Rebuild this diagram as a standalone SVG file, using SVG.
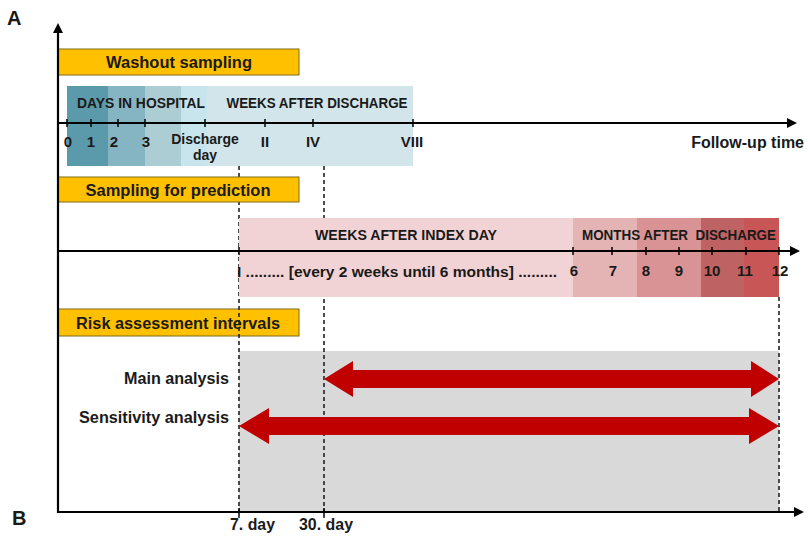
<svg xmlns="http://www.w3.org/2000/svg" width="807" height="536" viewBox="0 0 807 536">
<style>
  text { font-family: "Liberation Sans", Arial, sans-serif; font-weight: bold; fill: #1a1a1a; }
  .lbl { font-size: 16px; }
  .sm { font-size: 14px; }
  .tk { font-size: 15px; }
  .mid { text-anchor: middle; }
  .end { text-anchor: end; }
  .gold { fill: #FFC000; stroke: #7f6a1a; stroke-width: 1; }
  .axis { stroke: #000; stroke-width: 2.2; fill: none; }
  .tick { stroke: #000; stroke-width: 1.5; }
  .dash { stroke: #222; stroke-width: 1.6; stroke-dasharray: 4 3; fill: none; }
  .red { fill: #C00000; }
</style>
<defs>
  <marker id="ah" markerUnits="userSpaceOnUse" markerWidth="12" markerHeight="10" refX="1" refY="5" orient="auto">
    <path d="M0,0 L10,5 L0,10 Z" fill="#000"/>
  </marker>
</defs>
<rect width="807" height="536" fill="#fff"/>

<g id="labels-ab">
  <text x="7" y="25" style="font-size:20px">A</text>
  <text x="12" y="525" style="font-size:20px">B</text>
</g>

<g id="risk-area">
  <rect x="239" y="351" width="540" height="161" fill="#D9D9D9"/>
</g>

<g id="risk-box">
  <rect class="gold" x="58" y="309" width="241" height="27"/>
  <text class="lbl mid" x="178" y="329" textLength="204" lengthAdjust="spacingAndGlyphs">Risk assessment intervals</text>
</g>

<g id="connectors">
  <line class="dash" x1="239" y1="166" x2="239" y2="518"/>
  <line class="dash" x1="324" y1="166" x2="324" y2="518"/>
  <line class="dash" x1="779" y1="297" x2="779" y2="512"/>
</g>

<g id="prediction-band">
  <rect x="239" y="218" width="334" height="79" fill="#F2D3D5"/>
  <rect x="573" y="218" width="64" height="79" fill="#E4B3B4"/>
  <rect x="637" y="218" width="64" height="79" fill="#D99394"/>
  <rect x="701" y="218" width="43" height="79" fill="#BF6263"/>
  <rect x="744" y="218" width="35" height="79" fill="#C85657"/>
  <text class="sm mid" x="406" y="240" textLength="182" lengthAdjust="spacingAndGlyphs">WEEKS AFTER INDEX DAY</text>
  <text class="sm mid" x="679" y="240" textLength="194" lengthAdjust="spacingAndGlyphs" xml:space="preserve" style="white-space:pre">MONTHS AFTER  DISCHARGE</text>
</g>

<g id="sampling-box">
  <rect class="gold" x="58" y="177" width="241" height="25"/>
  <text class="lbl mid" x="178" y="196" textLength="185" lengthAdjust="spacingAndGlyphs">Sampling for prediction</text>
</g>

<g id="washout-box">
  <rect class="gold" x="58" y="49" width="241" height="26"/>
  <text class="lbl mid" x="179" y="68" textLength="146" lengthAdjust="spacingAndGlyphs">Washout sampling</text>
</g>

<g id="washout-band">
  <rect x="67" y="86" width="346" height="80" fill="#D2E5EA"/>
  <rect x="67" y="86" width="41" height="80" fill="#5A9AAB"/>
  <rect x="108" y="86" width="37" height="80" fill="#85B5C3"/>
  <rect x="145" y="86" width="36" height="80" fill="#ADCDD5"/>
  <rect x="181" y="86" width="26" height="80" fill="#C8E4EC"/>
  <text class="sm mid" x="141" y="108" textLength="128" lengthAdjust="spacingAndGlyphs">DAYS IN HOSPITAL</text>
  <text class="sm mid" x="317" y="108" textLength="181" lengthAdjust="spacingAndGlyphs">WEEKS AFTER DISCHARGE</text>
</g>

<g id="axes">
  <line class="axis" x1="58" y1="513" x2="58" y2="32" marker-end="url(#ah)"/>
  <line class="axis" x1="57" y1="512" x2="795" y2="512" marker-end="url(#ah)"/>
  <line class="axis" x1="58" y1="123" x2="788" y2="123" marker-end="url(#ah)"/>
  <line class="axis" x1="58" y1="251" x2="791" y2="251" marker-end="url(#ah)"/>
</g>

<g id="ticks">
  <path class="tick" d="M67,119V127 M91,119V127 M118,119V127 M145,119V127 M205,119V127 M265,119V127 M313,119V127 M413,119V127"/>
  <path class="tick" d="M239,247V255 M573,247V255 M612,247V255 M646,247V255 M679,247V255 M712,247V255 M746,247V255 M779,247V255"/>
  <path class="tick" d="M239,508V516 M324,508V516"/>
</g>

<g id="top-axis-labels">
  <text class="tk mid" x="68" y="147">0</text>
  <text class="tk mid" x="91" y="147">1</text>
  <text class="tk mid" x="114" y="147">2</text>
  <text class="tk mid" x="146" y="147">3</text>
  <text class="sm mid" x="205" y="144">Discharge</text>
  <text class="sm mid" x="205" y="160">day</text>
  <text class="tk mid" x="265" y="147">II</text>
  <text class="tk mid" x="313" y="147">IV</text>
  <text class="tk mid" x="412" y="147">VIII</text>
  <text class="lbl end" x="804" y="148">Follow-up time</text>
</g>

<g id="mid-axis-labels">
  <text class="sm" x="237" y="277" textLength="320" lengthAdjust="spacingAndGlyphs">I ......... [every 2 weeks until 6 months] .........</text>
  <text class="tk mid" x="574" y="276">6</text>
  <text class="tk mid" x="613" y="276">7</text>
  <text class="tk mid" x="646" y="276">8</text>
  <text class="tk mid" x="679" y="276">9</text>
  <text class="tk mid" x="712" y="276">10</text>
  <text class="tk mid" x="745" y="276">11</text>
  <text class="tk mid" x="780" y="276">12</text>
</g>

<g id="main-analysis">
  <polygon class="red" points="324,379 353,361 353,370 751,370 751,361 779,379 751,397 751,388 353,388 353,397"/>
  <text class="lbl end" x="229" y="384" textLength="105" lengthAdjust="spacingAndGlyphs">Main analysis</text>
</g>

<g id="sensitivity-analysis">
  <polygon class="red" points="239,426 269,408 269,417 749,417 749,408 779,426 749,444 749,435 269,435 269,444"/>
  <text class="lbl end" x="229" y="423" textLength="150" lengthAdjust="spacingAndGlyphs">Sensitivity analysis</text>
</g>

<g id="bottom-labels">
  <text class="lbl" x="230" y="530" textLength="45" lengthAdjust="spacingAndGlyphs">7. day</text>
  <text class="lbl" x="299" y="530" textLength="54" lengthAdjust="spacingAndGlyphs">30. day</text>
</g>
</svg>
